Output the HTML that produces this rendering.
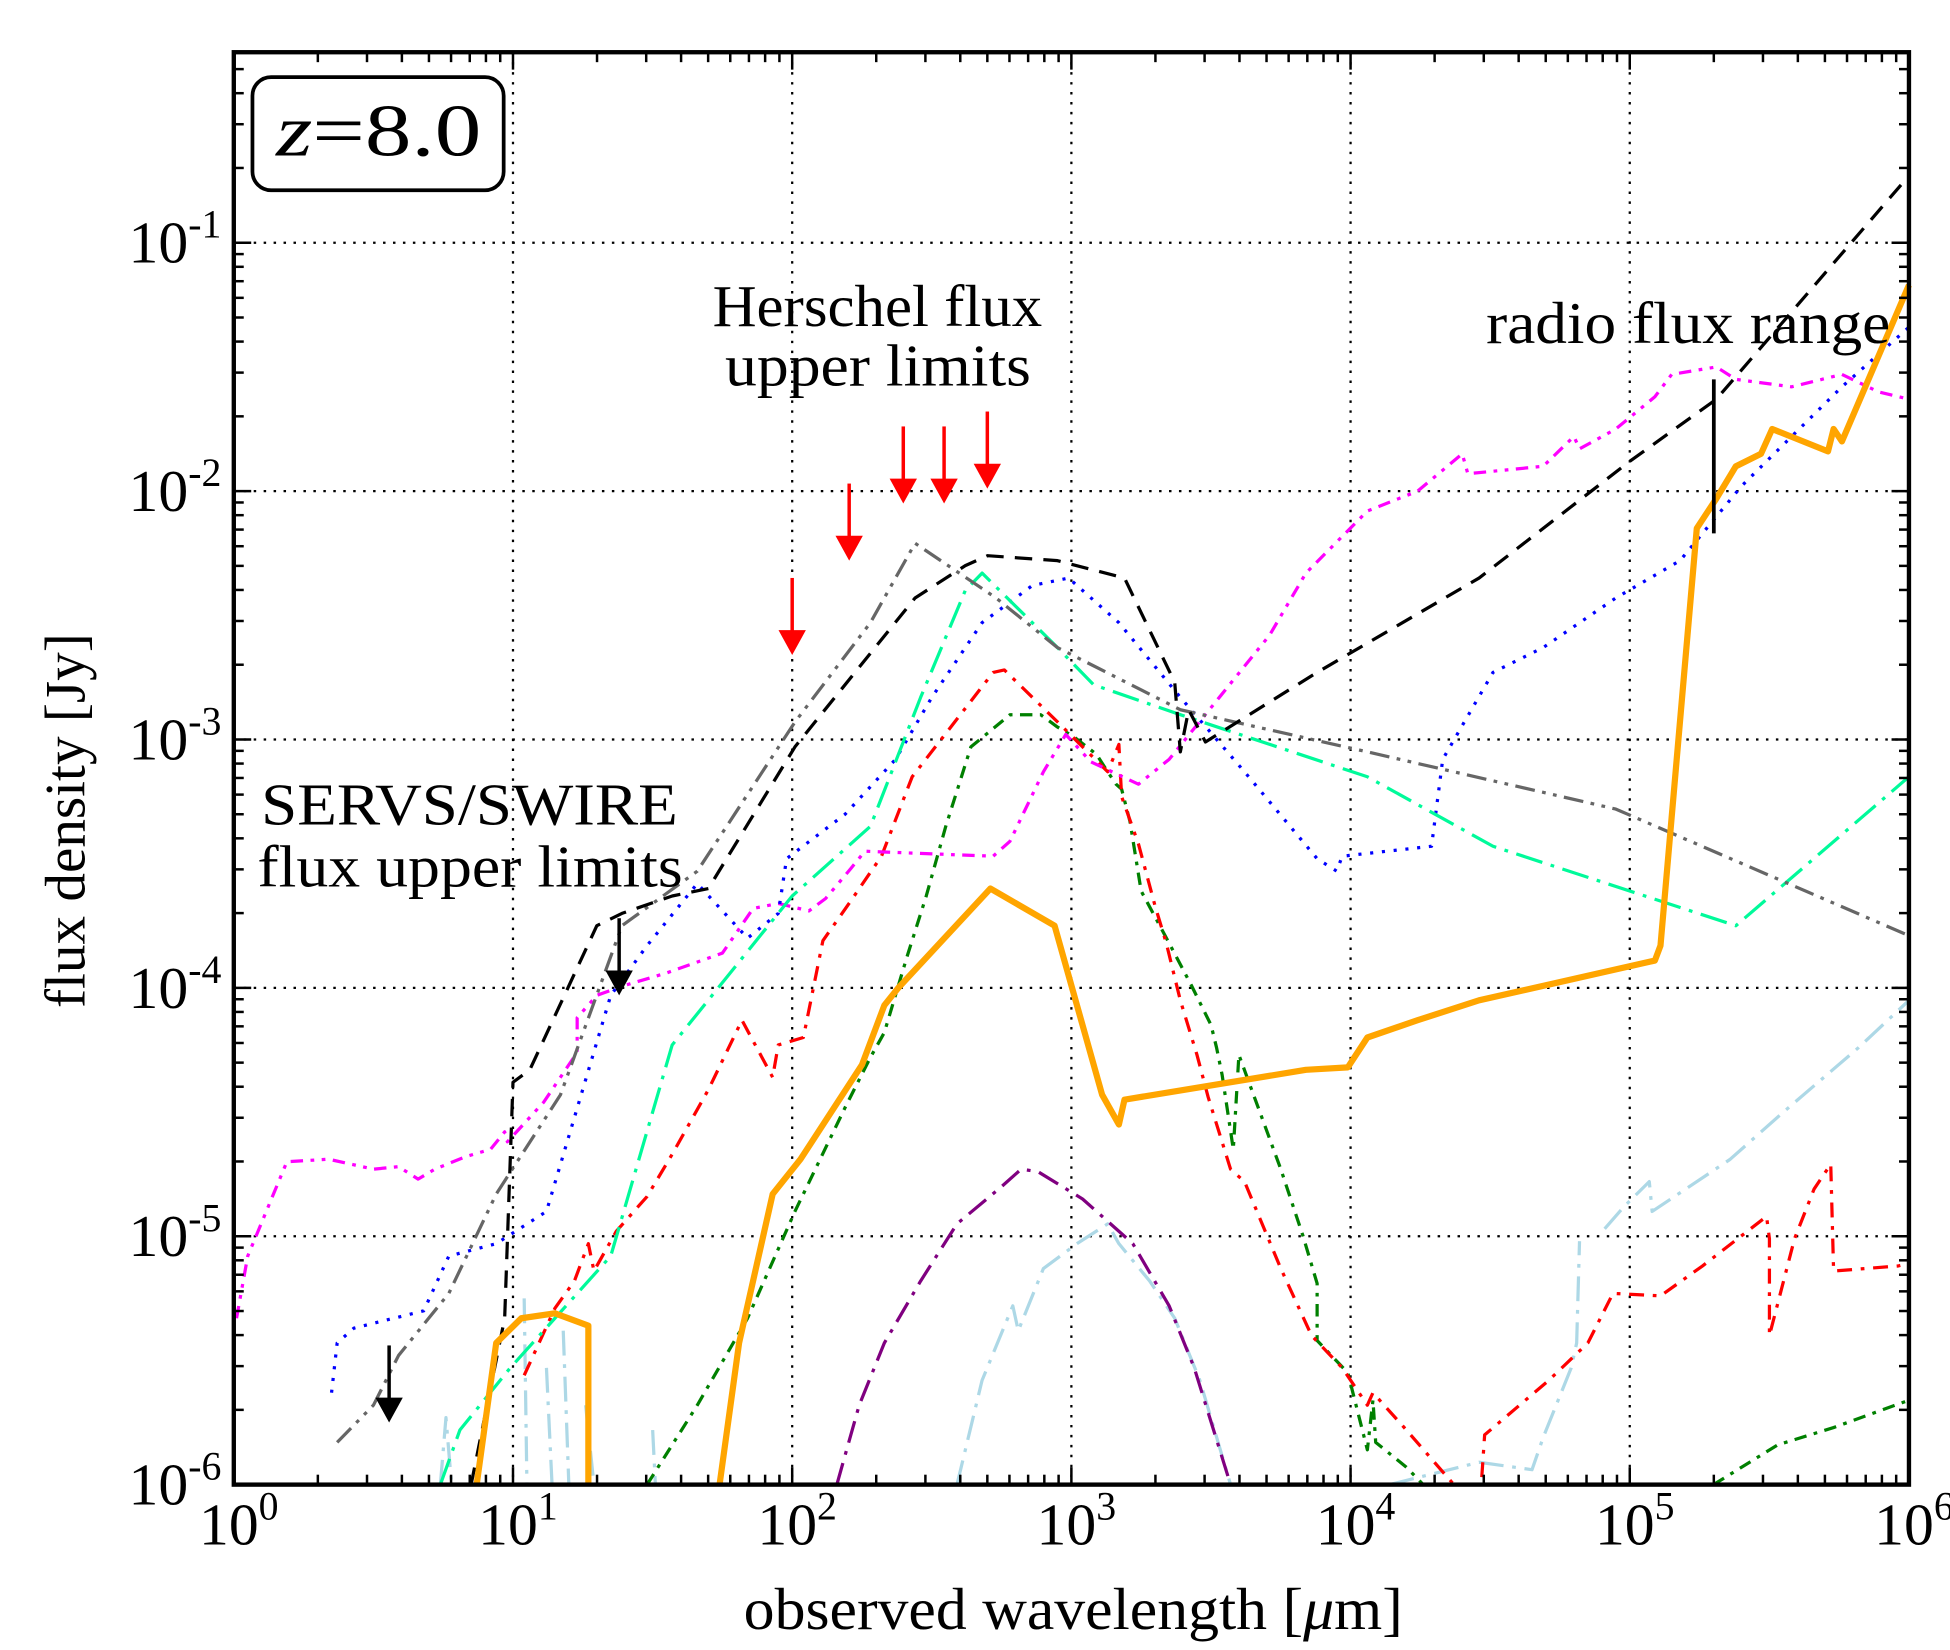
<!DOCTYPE html>
<html><head><meta charset="utf-8"><style>
html,body{margin:0;padding:0;background:#fff;}
svg{display:block;}
text{font-family:"Liberation Serif",serif;fill:#000;}
</style></head><body>
<svg id="chart" width="1950" height="1650" viewBox="0 0 1568 1327" preserveAspectRatio="none" xmlns="http://www.w3.org/2000/svg">
<g id="grid"></g>
<g id="series"></g>
<g id="marks"></g>
<g id="axes"></g>
<g>
<rect x="203" y="62" width="202" height="91" rx="15" fill="#fff" stroke="#000" stroke-width="3"/>
<text x="222" y="125" font-size="60" textLength="165" lengthAdjust="spacingAndGlyphs"><tspan font-style="italic">z</tspan>=8.0</text>
</g>
<text x="573" y="262" font-size="48" textLength="265" lengthAdjust="spacingAndGlyphs">Herschel flux</text>
<text x="583" y="310" font-size="48" textLength="246" lengthAdjust="spacingAndGlyphs">upper limits</text>
<text x="1195" y="276" font-size="48" textLength="325" lengthAdjust="spacingAndGlyphs">radio flux range</text>
<text x="210" y="663" font-size="48" textLength="335" lengthAdjust="spacingAndGlyphs">SERVS/SWIRE</text>
<text x="207" y="713" font-size="48" textLength="342" lengthAdjust="spacingAndGlyphs">flux upper limits</text>
<text x="598" y="1310" font-size="48" textLength="530" lengthAdjust="spacingAndGlyphs">observed wavelength [<tspan font-style="italic">μ</tspan>m]</text>
<text transform="translate(68,660) rotate(-90)" font-size="46" text-anchor="middle">flux density [Jy]</text>
</svg>
<script>
// axis ranges (log10)
const xDomain = [0, 6];
const yDomain = [-6, -0.233];
const xTicks = [0,1,2,3,4,5,6];
const yTicks = [-6,-5,-4,-3,-2,-1];
const xTickLabels = ["0","1","2","3","4","5","6"];
const yTickLabels = ["-6","-5","-4","-3","-2","-1"];

// series: [log10 wavelength, log10 flux]; null = gap
const orangeSeries = [[0.87,-6],[0.94,-5.43],[1.03,-5.33],[1.15,-5.31],[1.27,-5.36],[1.27,-6],null,
[1.74,-6],[1.81,-5.43],[1.93,-4.83],[2.03,-4.69],[2.25,-4.31],[2.33,-4.07],[2.38,-4.0],[2.71,-3.60],[2.94,-3.75],[3.11,-4.43],[3.17,-4.55],[3.19,-4.45],[3.84,-4.33],[3.99,-4.32],[4.06,-4.20],[4.24,-4.13],[4.46,-4.05],[5.09,-3.89],[5.11,-3.83],[5.24,-2.15],[5.31,-2.03],[5.38,-1.90],[5.47,-1.85],[5.51,-1.75],[5.71,-1.84],[5.73,-1.75],[5.76,-1.80],[6.0,-1.17]];
const blackSeries = [[0.85,-6],[0.97,-5.33],[1.0,-4.38],[1.06,-4.33],[1.30,-3.75],[1.39,-3.70],[1.57,-3.63],[1.70,-3.60],[2.01,-3.03],[2.44,-2.43],[2.62,-2.30],[2.70,-2.26],[2.95,-2.28],[3.19,-2.35],[3.37,-2.77],[3.39,-3.05],[3.42,-2.88],[3.48,-3.01],[3.88,-2.73],[4.46,-2.35],[5.0,-1.88],[5.31,-1.63],[6.0,-0.73]];
const graySeries = [[0.37,-5.83],[0.50,-5.68],[0.59,-5.48],[0.77,-5.23],[0.94,-4.83],[1.17,-4.43],[1.39,-3.75],[1.66,-3.53],[2.01,-2.93],[2.28,-2.53],[2.44,-2.21],[2.73,-2.43],[2.95,-2.63],[3.39,-2.88],[4.06,-3.05],[4.95,-3.28],[6.0,-3.79]];
const springSeries = [[0.74,-6],[0.81,-5.78],[0.99,-5.53],[1.15,-5.33],[1.35,-5.08],[1.57,-4.23],[2.0,-3.63],[2.28,-3.35],[2.46,-2.83],[2.62,-2.40],[2.68,-2.33],[2.95,-2.63],[3.08,-2.78],[3.39,-2.90],[4.06,-3.15],[4.51,-3.43],[5.38,-3.75],[6.0,-3.15]];
const blueSeries = [[0.35,-5.63],[0.37,-5.43],[0.43,-5.37],[0.68,-5.30],[0.77,-5.08],[0.94,-5.03],[1.12,-4.90],[1.35,-4.03],[1.48,-3.83],[1.66,-3.58],[1.84,-3.80],[1.95,-3.70],[1.98,-3.48],[2.19,-3.30],[2.37,-3.08],[2.50,-2.83],[2.68,-2.53],[2.86,-2.38],[2.99,-2.35],[3.17,-2.53],[3.39,-2.83],[3.62,-3.13],[3.88,-3.48],[3.95,-3.53],[3.97,-3.47],[4.29,-3.43],[4.33,-3.08],[4.51,-2.73],[4.69,-2.63],[4.95,-2.43],[5.18,-2.28],[5.40,-1.98],[5.58,-1.78],[5.76,-1.58],[6.0,-1.34]];
const magentaSeries = [[0.01,-5.33],[0.05,-5.08],[0.19,-4.70],[0.34,-4.69],[0.50,-4.73],[0.59,-4.72],[0.66,-4.77],[0.72,-4.73],[0.83,-4.68],[0.92,-4.65],[0.97,-4.58],[0.98,-4.62],[1.11,-4.46],[1.23,-4.26],[1.23,-4.12],[1.30,-4.03],[1.40,-3.99],[1.55,-3.94],[1.75,-3.86],[1.86,-3.68],[1.95,-3.66],[2.06,-3.69],[2.12,-3.64],[2.21,-3.52],[2.26,-3.45],[2.72,-3.47],[2.78,-3.41],[2.90,-3.13],[2.98,-2.98],[3.07,-3.09],[3.24,-3.18],[3.35,-3.08],[3.53,-2.83],[3.71,-2.58],[3.84,-2.33],[4.06,-2.08],[4.24,-2.0],[4.40,-1.85],[4.42,-1.93],[4.69,-1.90],[4.80,-1.78],[4.82,-1.83],[4.95,-1.75],[5.09,-1.62],[5.15,-1.53],[5.31,-1.50],[5.38,-1.55],[5.58,-1.58],[5.76,-1.53],[5.89,-1.60],[6.0,-1.63]];
const redSeries = [[1.04,-5.56],[1.15,-5.29],[1.22,-5.18],[1.27,-5.03],[1.29,-5.14],[1.37,-4.98],[1.48,-4.84],[1.57,-4.67],[1.70,-4.41],[1.82,-4.13],[1.93,-4.36],[1.95,-4.23],[2.04,-4.20],[2.11,-3.81],[2.21,-3.65],[2.32,-3.47],[2.43,-3.15],[2.72,-2.73],[2.76,-2.72],[2.96,-2.94],[3.13,-3.13],[3.17,-3.02],[3.18,-3.23],[3.24,-3.42],[3.30,-3.67],[3.34,-3.82],[3.39,-4.05],[3.45,-4.27],[3.49,-4.44],[3.57,-4.73],[3.62,-4.78],[3.75,-5.13],[3.86,-5.40],[3.97,-5.53],[4.06,-5.68],[4.08,-5.63],[4.20,-5.78],[4.37,-6],null,
[4.47,-5.97],[4.48,-5.80],[4.71,-5.58],[4.85,-5.43],[4.94,-5.23],[5.11,-5.24],[5.26,-5.12],[5.49,-4.92],[5.50,-5.01],[5.50,-5.40],[5.59,-5.01],[5.66,-4.81],[5.72,-4.71],[5.73,-5.14],[5.96,-5.12],[6.0,-5.11]];
const greenSeries = [[1.48,-6],[1.66,-5.68],[1.84,-5.33],[2.01,-4.90],[2.19,-4.48],[2.28,-4.28],[2.33,-4.18],[2.41,-3.88],[2.48,-3.63],[2.55,-3.35],[2.64,-3.03],[2.78,-2.90],[2.89,-2.90],[2.95,-2.95],[3.01,-2.99],[3.09,-3.06],[3.13,-3.13],[3.16,-3.18],[3.18,-3.20],[3.21,-3.33],[3.25,-3.61],[3.35,-3.82],[3.43,-3.99],[3.50,-4.15],[3.52,-4.24],[3.54,-4.35],[3.58,-4.65],[3.60,-4.27],[3.75,-4.73],[3.83,-5.0],[3.88,-5.19],[3.88,-5.42],[3.99,-5.55],[4.06,-5.86],[4.08,-5.66],[4.09,-5.83],[4.20,-5.93],[4.26,-6],null,
[5.30,-6],[5.53,-5.84],[5.73,-5.77],[6.0,-5.66]];
const purpleSeries = [[2.16,-6],[2.24,-5.68],[2.33,-5.43],[2.46,-5.18],[2.59,-4.95],[2.75,-4.80],[2.82,-4.73],[2.88,-4.74],[3.04,-4.85],[3.22,-5.03],[3.35,-5.28],[3.44,-5.53],[3.57,-6]];
const lightblueSeries = [[0.74,-6],[0.76,-5.73],[0.78,-6],null,[1.04,-5.25],[1.05,-6],null,[1.12,-5.53],[1.14,-6],null,[1.18,-5.38],[1.20,-6],null,[1.26,-5.68],[1.29,-6],null,[1.50,-5.78],[1.51,-6],null,
[2.59,-6],[2.68,-5.58],[2.79,-5.28],[2.81,-5.38],[2.90,-5.13],[3.02,-5.03],[3.13,-4.95],[3.17,-5.03],[3.28,-5.18],[3.37,-5.33],[3.46,-5.58],[3.57,-6],null,
[4.14,-6],[4.46,-5.91],[4.65,-5.94],[4.69,-5.81],[4.79,-5.53],[4.81,-5.43],[4.82,-5.02],null,[4.91,-4.97],[4.98,-4.88],[5.07,-4.78],[5.08,-4.90],[5.36,-4.69],[5.55,-4.50],[5.82,-4.24],[6.0,-4.05]];

// upper limits
const herschelWave = [100,160,250,350,500];
const herschelFlux = [-2.66,-2.28,-2.05,-2.05,-1.99];
const servsWave = [3.6,24];
const servsFlux = [-5.75,-4.03];
const radioWave = 2e5;
const radioRange = [-2.17,-1.55];

const X0=188, X1=1535, Y0=1194, Y1=42;
function sx(lx){return X0+(lx-xDomain[0])/(xDomain[1]-xDomain[0])*(X1-X0);}
function sy(ly){return Y0-(ly-yDomain[0])/(yDomain[1]-yDomain[0])*(Y0-Y1);}
const NS="http://www.w3.org/2000/svg";
function mk(tag,parent,attrs){const e=document.createElementNS(NS,tag);for(const k in attrs)e.setAttribute(k,attrs[k]);parent.appendChild(e);return e;}

const grid=document.getElementById('grid');
xTicks.forEach(t=>{if(t>xDomain[0]&&t<xDomain[1]){const l=mk('line',grid,{x1:sx(t),x2:sx(t),y1:Y1,y2:Y0,stroke:'#000','stroke-width':1.8,'stroke-dasharray':'2,6'});

}});
yTicks.forEach(t=>{if(t>yDomain[0]){const l=mk('line',grid,{x1:X0,x2:X1,y1:sy(t),y2:sy(t),stroke:'#000','stroke-width':1.8,'stroke-dasharray':'2,6'});

}});

const ser=document.getElementById('series');
function drawSeries(data,color,width,dash,name){
  let d='',pen=false;
  data.forEach(p=>{if(!p){pen=false;return;}d+=(pen?'L':'M')+sx(p[0]).toFixed(1)+','+sy(p[1]).toFixed(1);pen=true;});
  const path=mk('path',ser,{d:d,fill:'none',stroke:color,'stroke-width':width,'stroke-dasharray':dash,'stroke-linejoin':'round'});
  
  
}
drawSeries(lightblueSeries,'#add8e6',2.6,'20,7,3,7','lightblue-series');
drawSeries(purpleSeries,'#800080',2.6,'18,7,3,7','purple-series');
drawSeries(greenSeries,'#008000',2.6,'10,6,3,6','green-series');
drawSeries(redSeries,'#ff0000',2.6,'12,7,3,7','red-series');
drawSeries(magentaSeries,'#ff00ff',2.6,'10,6,3,6,3,6','magenta-series');
drawSeries(blueSeries,'#0000ff',2.6,'2.5,7','blue-series');
drawSeries(springSeries,'#00fa9a',2.6,'22,7,3,7','springgreen-series');
drawSeries(graySeries,'#666666',2.6,'16,6,3,6,3,6','gray-series');
drawSeries(blackSeries,'#000000',2.6,'14,9','black-series');
drawSeries(orangeSeries,'#ffa500',5,'none','orange-series');

const marks=document.getElementById('marks');
function arrow(lx,ly,color,len,name){
  const x=sx(lx),y=sy(ly);
  const g=mk('g',marks,{});
  
  
  mk('line',g,{x1:x,x2:x,y1:y-len,y2:y-12,stroke:color,'stroke-width':2.8});
  mk('polygon',g,{points:`${x-11},${y-20} ${x+11},${y-20} ${x},${y}`,fill:color});
}
herschelWave.forEach((w,i)=>arrow(Math.log10(w),herschelFlux[i],'#ff0000',62,'herschel-limit-arrow'));
servsWave.forEach((w,i)=>arrow(Math.log10(w),servsFlux[i],'#000000',62,'servs-limit-arrow'));
const rl=mk('line',marks,{x1:sx(Math.log10(radioWave)),x2:sx(Math.log10(radioWave)),y1:sy(radioRange[0]),y2:sy(radioRange[1]),stroke:'#000','stroke-width':3});



const ax=document.getElementById('axes');
mk('rect',ax,{x:X0,y:Y1,width:X1-X0,height:Y0-Y1,fill:'none',stroke:'#000','stroke-width':3.5});
for(let dcd=xDomain[0];dcd<=xDomain[1];dcd++){
  for(let k=1;k<=9;k++){const v=dcd+Math.log10(k);if(v>xDomain[1]+1e-9)break;const x=sx(v);const L=k===1?14:8;
    mk('line',ax,{x1:x,x2:x,y1:Y0,y2:Y0-L,stroke:'#000','stroke-width':2});mk('line',ax,{x1:x,x2:x,y1:Y1,y2:Y1+L,stroke:'#000','stroke-width':2});}
}
for(let dcd=-6;dcd<=0;dcd++){
  for(let k=1;k<=9;k++){const v=dcd+Math.log10(k);if(v>yDomain[1])break;if(v<yDomain[0])continue;const y=sy(v);const L=k===1?14:8;
    mk('line',ax,{x1:X0,x2:X0+L,y1:y,y2:y,stroke:'#000','stroke-width':2});mk('line',ax,{x1:X1,x2:X1-L,y1:y,y2:y,stroke:'#000','stroke-width':2});}
}
xTicks.forEach((t,i)=>{const tx=mk('text',ax,{x:sx(t)+4,y:1242,'font-size':48,'text-anchor':'middle'});
  
  
  tx.innerHTML='10<tspan dy="-20" font-size="32">'+xTickLabels[i]+'</tspan>';});
yTicks.forEach((t,i)=>{const tx=mk('text',ax,{x:178,y:sy(t)+16,'font-size':48,'text-anchor':'end'});
  
  
  tx.innerHTML='10<tspan dy="-20" font-size="32">'+yTickLabels[i]+'</tspan>';});
</script>
</body></html>
